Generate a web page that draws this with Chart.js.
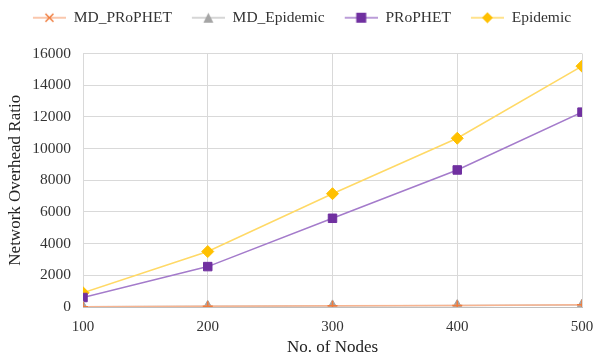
<!DOCTYPE html>
<html>
<head>
<meta charset="utf-8">
<script src="https://cdn.jsdelivr.net/npm/chart.js@4"></script>
<style>
  html, body { margin: 0; padding: 0; background: #fff; }
  #wrap { width: 594px; height: 358px; }
</style>
</head>
<body>
<div id="wrap"><canvas id="grafico" width="594" height="358"></canvas></div>
<script>
// dados
const nos = [100, 200, 300, 400, 500];
const mdProphet = [20, 50, 80, 100, 140];
const mdEpidemic = [10, 40, 70, 90, 120];
const prophet = [600, 2550, 5600, 8650, 12300];
const epidemic = [900, 3500, 7150, 10650, 15200];
const yTicks = [0, 2000, 4000, 6000, 8000, 10000, 12000, 14000, 16000];

const fonte = 'Liberation Serif';

// icone da legenda: linha + marcador (com 10px vazios a esquerda)
function icone(corLinha, corPonto, estilo) {
  const c = document.createElement('canvas');
  c.width = 43; c.height = 12;
  const g = c.getContext('2d');
  g.translate(10, 0);
  g.strokeStyle = corLinha; g.lineWidth = 1.5;
  g.beginPath(); g.moveTo(0, 6); g.lineTo(33, 6); g.stroke();
  g.fillStyle = corPonto; g.strokeStyle = corPonto;
  g.beginPath();
  if (estilo === 'cross') {
    g.lineWidth = 1.5;
    g.moveTo(12.5, 2); g.lineTo(20.5, 10); g.moveTo(20.5, 2); g.lineTo(12.5, 10); g.stroke();
  } else if (estilo === 'triangle') {
    g.moveTo(16.5, 1); g.lineTo(21.5, 11); g.lineTo(11.5, 11); g.closePath(); g.fill();
  } else if (estilo === 'rect') {
    g.fillRect(11.5, 1, 10, 10);
  } else {
    g.moveTo(16.5, 0.5); g.lineTo(22, 6); g.lineTo(16.5, 11.5); g.lineTo(11, 6); g.closePath(); g.fill();
  }
  return c;
}

const series = [
  { label: 'MD_PRoPHET', data: mdProphet, linha: '#F8B490', ponto: '#F07B3C', estilo: 'cross', r: 5 },
  { label: 'MD_Epidemic', data: mdEpidemic, linha: '#C8C8C8', ponto: '#A5A5A5', estilo: 'triangle', r: 6 },
  { label: 'PRoPHET', data: prophet, linha: '#A47BCB', ponto: '#7030A0', estilo: 'rect', r: 6 },
  { label: 'Epidemic', data: epidemic, linha: '#FFD966', ponto: '#FFC000', estilo: 'rectRot', r: 6 }
];

new Chart(document.getElementById('grafico'), {
  type: 'line',
  data: {
    datasets: series.map(s => ({
      label: s.label,
      data: nos.map((n, i) => ({ x: n, y: s.data[i] })),
      borderColor: s.linha,
      backgroundColor: s.ponto,
      pointBorderColor: s.ponto,
      pointBackgroundColor: s.ponto,
      pointStyle: s.estilo,
      pointRadius: s.r,
      pointBorderWidth: s.estilo === 'cross' ? 1.5 : 1,
      borderWidth: 1.5,
      tension: 0,
      legendIcon: icone(s.linha, s.ponto, s.estilo)
    }))
  },
  options: {
    responsive: false,
    animation: false,
    layout: { padding: { left: 0, right: 0, top: 0, bottom: 0 } },
    plugins: {
      legend: {
        position: 'top',
        labels: {
          font: { family: fonte, size: 15.5 },
          color: '#333',
          usePointStyle: true,
          pointStyleWidth: 43,
          padding: 10,
          generateLabels: chart => chart.data.datasets.map((d, i) => ({
            text: d.label,
            pointStyle: d.legendIcon,
            fontColor: '#333',
            datasetIndex: i,
            hidden: false,
            lineWidth: 0
          }))
        }
      },
      tooltip: { enabled: false }
    },
    scales: {
      x: {
        type: 'linear',
        min: 100, max: 500,
        ticks: { stepSize: 100, font: { family: fonte, size: 15 }, color: '#333', padding: 11 },
        grid: { color: '#D9D9D9', drawTicks: false },
        border: { color: '#BFBFBF' },
        title: { display: true, text: 'No. of Nodes', font: { family: fonte, size: 17 }, color: '#222', padding: { top: 4, bottom: 0 } },
        afterFit: s => { s.height = 51; s.paddingRight = 12; }
      },
      // eixo vazio so para abrir espaco entre legenda e grafico
      topo: {
        type: 'linear',
        position: 'top',
        axis: 'x',
        ticks: { display: false },
        grid: { display: false, drawTicks: false },
        border: { display: false },
        afterFit: s => { s.height = 18; }
      },
      y: {
        min: 0, max: 16000,
        afterBuildTicks: ax => { ax.ticks = yTicks.map(v => ({ value: v })); },
        ticks: { font: { family: fonte, size: 15.5 }, color: '#333', padding: 12, callback: v => String(v) },
        grid: { color: '#D9D9D9', drawTicks: false },
        border: { display: false },
        title: { display: true, text: 'Network Overhead Ratio', font: { family: fonte, size: 17 }, color: '#222', padding: { top: 5, bottom: 0 } },
        afterFit: s => { s.width = 83; }
      }
    }
  }
});
</script>
</body>
</html>
